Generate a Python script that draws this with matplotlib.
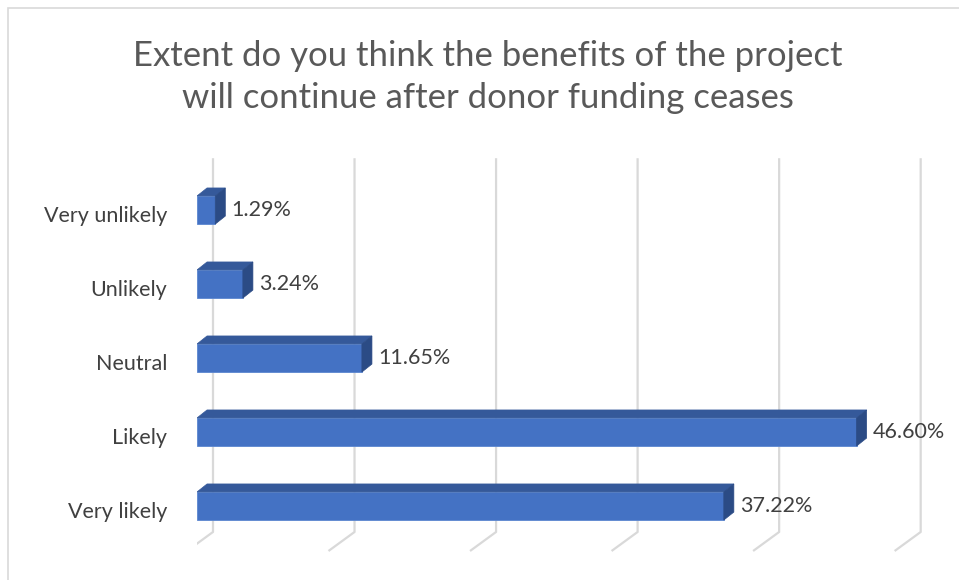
import matplotlib
matplotlib.use("Agg")
import matplotlib.pyplot as plt
from matplotlib.patches import Polygon, Rectangle

plt.rcParams['font.family'] = ['Lato', 'DejaVu Sans']

# Survey responses (share of respondents)
categories = ['Very likely', 'Likely', 'Neutral', 'Unlikely', 'Very unlikely']
shares = [37.22, 46.60, 11.65, 3.24, 1.29]
grid_ticks = [0, 10, 20, 30, 40, 50]

title = "Extent do you think the benefits of the project\nwill continue after donor funding ceases"

front = '#4472C4'
top_face = '#35599A'
side_face = '#2B4B85'
grid_col = '#D9D9D9'
text_col = '#404040'

fig = plt.figure(figsize=(9.59, 5.8), dpi=100)

# chart frame
fig.patches.append(Rectangle((8 / 959, -0.05), 1.1, 1 - 8 / 580 + 0.05,
                             transform=fig.transFigure, fill=False,
                             edgecolor=grid_col, lw=1.2))

ax = fig.add_axes([197 / 959, 0, (933 - 197) / 959, 1])
ax.set_xlim(0, 52)
ax.set_ylim(-1.0, 6.838)
ax.axis('off')

# 3D depth in data units
bar_h = 0.38
dx, dy = 0.71, 0.108
back_dx = 1.13
floor_dx, floor_dy = -1.84, -0.257
grid_top, grid_bot = 4.70, -0.351

for g in grid_ticks:
    xb = g + back_dx
    ax.plot([xb, xb, xb + floor_dx], [grid_top, grid_bot, grid_bot + floor_dy],
            color=grid_col, lw=1.6, solid_capstyle='butt', zorder=1)

for i, (cat, v) in enumerate(zip(categories, shares)):
    y0, y1 = i - bar_h / 2, i + bar_h / 2
    ax.barh(i, v, height=bar_h, color=front, edgecolor='#5B86D0', lw=0.6, zorder=3)
    ax.add_patch(Polygon([(0, y1), (v, y1), (v + dx, y1 + dy), (dx, y1 + dy)],
                         closed=True, facecolor=top_face, edgecolor=top_face, lw=0.5, zorder=3))
    ax.add_patch(Polygon([(v, y0), (v + dx, y0 + dy), (v + dx, y1 + dy), (v, y1)],
                         closed=True, facecolor=side_face, edgecolor=side_face, lw=0.5, zorder=3))
    ax.text(v + dx + 0.45, i + 0.0, f"{v:.2f}%", ha='left', va='center',
            fontsize=15.5, color=text_col, zorder=4)
    ax.text(-2.1, i - 0.08, cat, ha='right', va='center', fontsize=15.5,
            color=text_col, clip_on=False)

fig.text(488 / 959, 1 - 77 / 580, title, ha='center', va='center', fontsize=25,
         color='#595959', linespacing=1.4)

fig.savefig('out.png', dpi=100)
